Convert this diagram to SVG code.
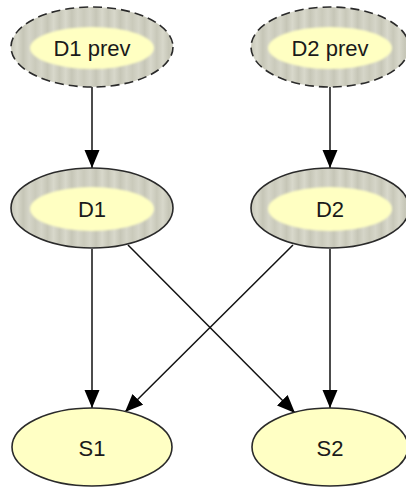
<svg xmlns="http://www.w3.org/2000/svg" width="406" height="488" viewBox="0 0 406 488">
<style>
.outer{stroke:#2a2a2a;stroke-width:1.6;fill:url(#ring)}
.dash{stroke-dasharray:9,5}
.inner{fill:#ffffc2;stroke:none;filter:url(#soft)}
.plain{fill:#ffffc4;stroke:#2a2a2a;stroke-width:1.6}
text{font-family:"Liberation Sans",Arial,sans-serif;font-size:22px;fill:#1a1a1a;text-anchor:middle;dominant-baseline:central}
.edge{stroke:#111;stroke-width:1.5;fill:none;marker-end:url(#ah)}
</style>
<defs>
<linearGradient id="ring" x1="0" y1="0" x2="0.15" y2="0" spreadMethod="reflect">
<stop offset="0" stop-color="#c8c8b9"/>
<stop offset="0.25" stop-color="#d8d8cb"/>
<stop offset="0.5" stop-color="#c6c6b7"/>
<stop offset="0.75" stop-color="#d5d5c8"/>
<stop offset="1" stop-color="#cacabb"/>
</linearGradient>
<filter id="soft" x="-10%" y="-20%" width="120%" height="140%"><feGaussianBlur stdDeviation="1.2"/></filter>
<marker id="ah" markerUnits="userSpaceOnUse" markerWidth="20" markerHeight="16" refX="18" refY="7.5" orient="auto">
<path d="M0,0 L18,7.5 L0,15 Z" fill="#000"/>
</marker>
</defs>
<g id="edges">
<line class="edge" x1="92" y1="87" x2="92" y2="168"/>
<line class="edge" x1="330" y1="87" x2="330" y2="168"/>
<line class="edge" x1="92" y1="249" x2="92" y2="408"/>
<line class="edge" x1="330" y1="249" x2="330" y2="408"/>
<line class="edge" x1="128" y1="245" x2="295" y2="413"/>
<line class="edge" x1="293" y1="245" x2="125" y2="412"/>
</g>
<g id="D1prev">
<ellipse class="outer dash" cx="92" cy="47" rx="81" ry="40"/>
<ellipse class="inner" cx="92" cy="48" rx="62" ry="21"/>
<text x="92" y="48">D1 prev</text>
</g>
<g id="D2prev">
<ellipse class="outer dash" cx="330" cy="47" rx="79" ry="40"/>
<ellipse class="inner" cx="330" cy="48" rx="62" ry="21"/>
<text x="330" y="48">D2 prev</text>
</g>
<g id="D1">
<ellipse class="outer" cx="92" cy="208" rx="81" ry="40"/>
<ellipse class="inner" cx="92" cy="209" rx="62" ry="22"/>
<text x="92" y="209">D1</text>
</g>
<g id="D2">
<ellipse class="outer" cx="330" cy="208" rx="79" ry="40"/>
<ellipse class="inner" cx="330" cy="209" rx="62" ry="22"/>
<text x="330" y="209">D2</text>
</g>
<g id="S1">
<ellipse class="plain" cx="92" cy="447" rx="80" ry="39"/>
<text x="92" y="448">S1</text>
</g>
<g id="S2">
<ellipse class="plain" cx="330" cy="447" rx="78" ry="39"/>
<text x="330" y="448">S2</text>
</g>
</svg>
